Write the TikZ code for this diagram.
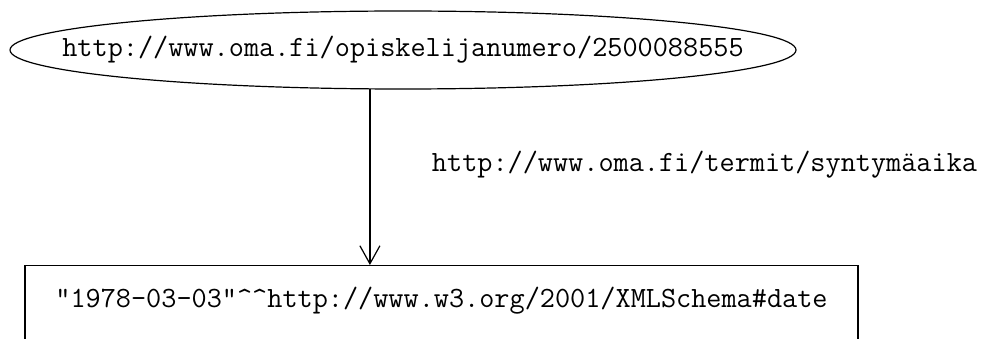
\documentclass[tikz,border=0pt]{standalone}
\usetikzlibrary{shapes.geometric,arrows.meta}
\newcommand{\uri}       {\fontsize{29.4}{32}\selectfont\ttfamily}

\begin{document}
\begin{tikzpicture}[x=1pt,y=-1pt,
   res/.style={draw,ellipse,line width=1.2pt,inner sep=0pt,minimum width=786pt,minimum height=78pt},
   lit/.style={draw,rectangle,line width=1.2pt,inner sep=0pt,minimum width=833pt,text height=42pt,text depth=40pt},
   prop/.style={inner sep=0pt},
   arr/.style={-{Straight Barb[length=18pt,width=20pt]},line width=1.2pt}]
   \useasboundingbox (0,0) rectangle (990,339);
   \clip (0,0) rectangle (990,339);
   \node[res] (subj) at (403,50) {\makebox[0pt]{\uri http://www.oma.fi/opiskelijanumero/2500088555}};
   \node[lit,anchor=north] (obj) at (441.5,265) {\uri "1978-03-03"\textasciicircum\textasciicircum http://www.w3.org/2001/XMLSchema\#date};
   \node[prop] (pred) at (704.5,165) {\uri http://www.oma.fi/termit/syntymäaika};
   \draw[arr] (subj.-130) -- (subj.-130 |- obj.north);
\end{tikzpicture}
\end{document}
